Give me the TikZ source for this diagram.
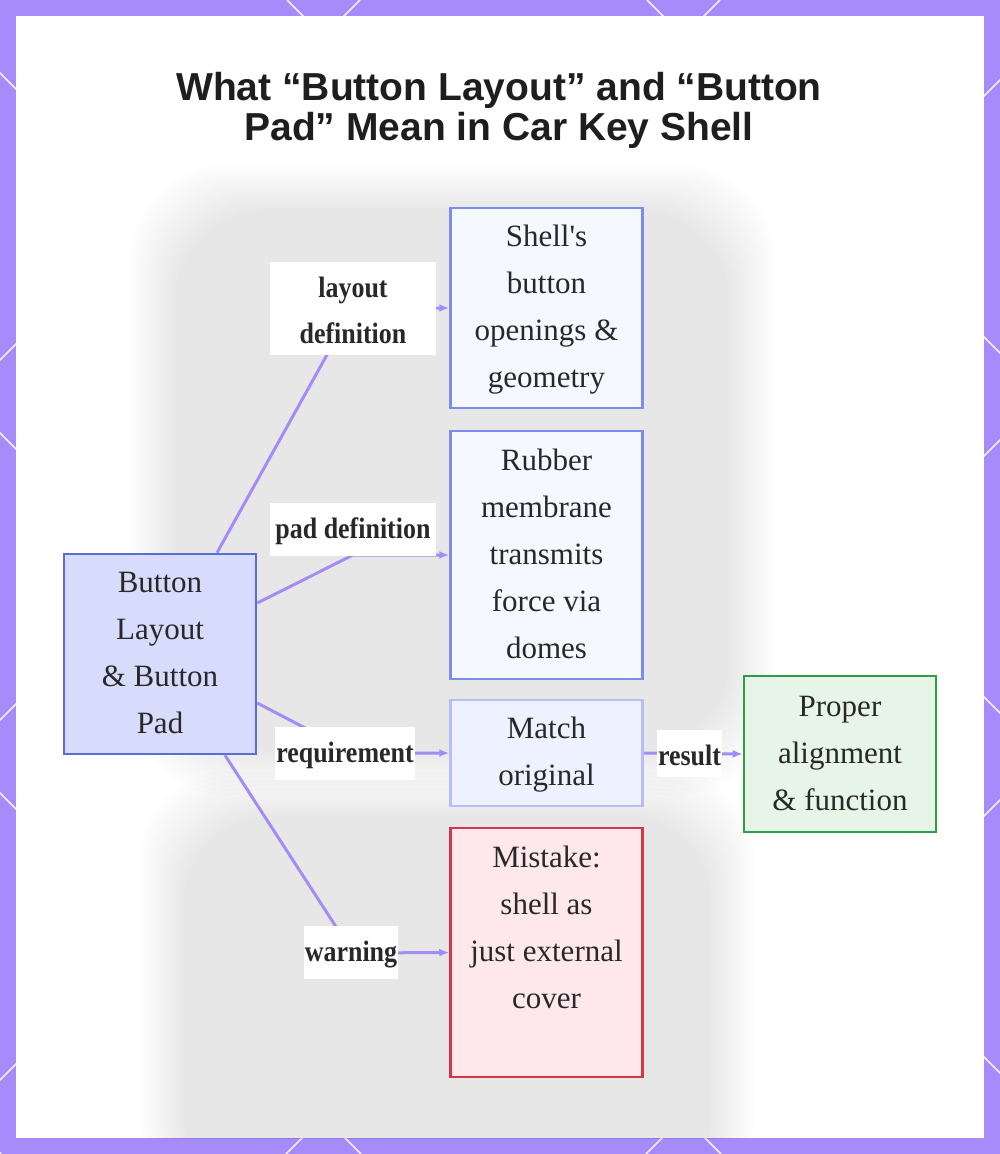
\documentclass[tikz,border=0pt]{standalone}
\usepackage{fontspec}
\setmainfont{Liberation Serif}
\newfontfamily\titlefont{Liberation Sans}
\newfontfamily\lblfont[FakeStretch=0.88]{Liberation Serif}
\usetikzlibrary{arrows.meta,calc}
\definecolor{framec}{RGB}{167,139,250}
\definecolor{edgec}{RGB}{165,140,245}
\definecolor{leftf}{RGB}{216,220,252}
\definecolor{leftb}{RGB}{92,108,214}
\definecolor{bluef}{RGB}{246,248,255}
\definecolor{blueb}{RGB}{122,140,236}
\definecolor{matchf}{RGB}{238,241,255}
\definecolor{matchb}{RGB}{180,190,250}
\definecolor{redf}{RGB}{255,232,236}
\definecolor{redb}{RGB}{210,56,72}
\definecolor{greenf}{RGB}{230,245,232}
\definecolor{greenb}{RGB}{46,158,70}
\definecolor{txt}{RGB}{40,40,40}
\definecolor{titletxt}{RGB}{30,30,30}
\newcommand{\topstr}{\rule{0pt}{24pt}}
\newcommand{\botstr}{\rule[-6pt]{0pt}{6pt}}
\newcommand{\ltop}{\rule{0pt}{24pt}}
\newcommand{\lbot}{\rule{0pt}{0pt}}
\begin{document}
\begin{tikzpicture}[x=1pt,y=-1pt,
  box/.style={draw, line width=2.5pt, minimum width=192pt, align=center, inner sep=0pt,
    font=\fontsize{31}{47}\selectfont, text=txt},
  lbl/.style={fill=white, inner xsep=1pt, inner ysep=11.5pt, align=center,
    font=\lblfont\bfseries\fontsize{29.5}{46}\selectfont, text=txt},
  conn/.style={draw=edgec, line width=3pt, -{Latex[length=10pt,width=8pt]}},
  diag/.style={white, line width=1.5pt, opacity=0.85}
]
\useasboundingbox (0,0) rectangle (1000,1154);
% frame
\fill[framec] (0,0) rectangle (1000,1154);
\begin{scope}
  \clip (0,0) rectangle (1000,1154);
  \foreach \k in {-4,...,2} {\draw[diag] ({287+360*\k},0) -- ({287+360*\k+1154},1154);}
  \foreach \k in {0,...,5} {\draw[diag] ({360+360*\k},0) -- ({360+360*\k-1154},1154);}
\end{scope}
\fill[white] (16,16) rectangle (984,1138);
% faint background key fob
\begin{scope}
  \clip (16,16) rectangle (984,1138);
  \foreach \i in {0,...,11} {
    \fill[black, opacity=0.0075, rounded corners=95pt] ({130+4*\i},{165+4*\i}) rectangle ({775-4*\i},{795-4*\i});
    \fill[black, opacity=0.0075, rounded corners=85pt] ({140+4*\i},{772+4*\i}) rectangle ({755-4*\i},{1200});
  }
\end{scope}
% title
\node[font=\titlefont\bfseries\fontsize{39}{40}\selectfont, text=titletxt, align=center, inner sep=0pt]
  (title) at (499,110) {What “Button Layout” and “Button\\Pad” Mean in Car Key Shell};
% nodes
\node[box, draw=leftb, fill=leftf, minimum height=200pt] (L) at (160,654)
  {\topstr Button\\Layout\\\& Button\\Pad\botstr};
\node[box, draw=blueb, fill=bluef, minimum height=200pt] (S) at (546.5,308)
  {\topstr Shell\textquotesingle s\\button\\openings \&\\geometry\botstr};
\node[box, draw=blueb, fill=bluef, minimum height=248pt] (R) at (546.5,555)
  {\topstr Rubber\\membrane\\transmits\\force via\\domes\botstr};
\node[box, draw=matchb, fill=matchf, minimum height=106pt] (M) at (546.5,753)
  {\topstr Match\\original\botstr};
\node[box, draw=redb, fill=redf, minimum height=249pt] (K) at (546.5,952.5)
  {\topstr Mistake:\\shell as\\just external\\cover\\\botstr};
\node[box, draw=greenb, fill=greenf, minimum height=156pt] (P) at (840,754)
  {\topstr Proper\\alignment\\\& function\botstr};
% connectors
\coordinate (b1) at (353,308);
\coordinate (b2) at (353,555);
\coordinate (b3) at (353,753);
\coordinate (b4) at (353,953);
\draw[conn] ([xshift=57pt]L.north) -- (b1) -- (S.west);
\draw[conn] ([yshift=51pt]L.east) -- (b2) -- (R.west);
\draw[conn] ([yshift=-49pt]L.east) -- (b3) -- (M.west);
\draw[conn] ([xshift=65pt]L.south) -- (b4) -- (K.west);
\draw[conn] (M.east) -- (P.west);
% labels
\node[lbl, minimum width=166pt] (l1) at (353,308.5) {\ltop layout\\definition\lbot};
\node[lbl, minimum width=166pt] (l2) at (353,529.5) {\ltop pad definition\lbot};
\node[lbl] (l3) at (345,753.5) {\ltop requirement\lbot};
\node[lbl] (l4) at (351,952.5) {\ltop warning\lbot};
\node[lbl] (l5) at (689.5,753.5) {\ltop result\lbot};
\end{tikzpicture}
\end{document}
